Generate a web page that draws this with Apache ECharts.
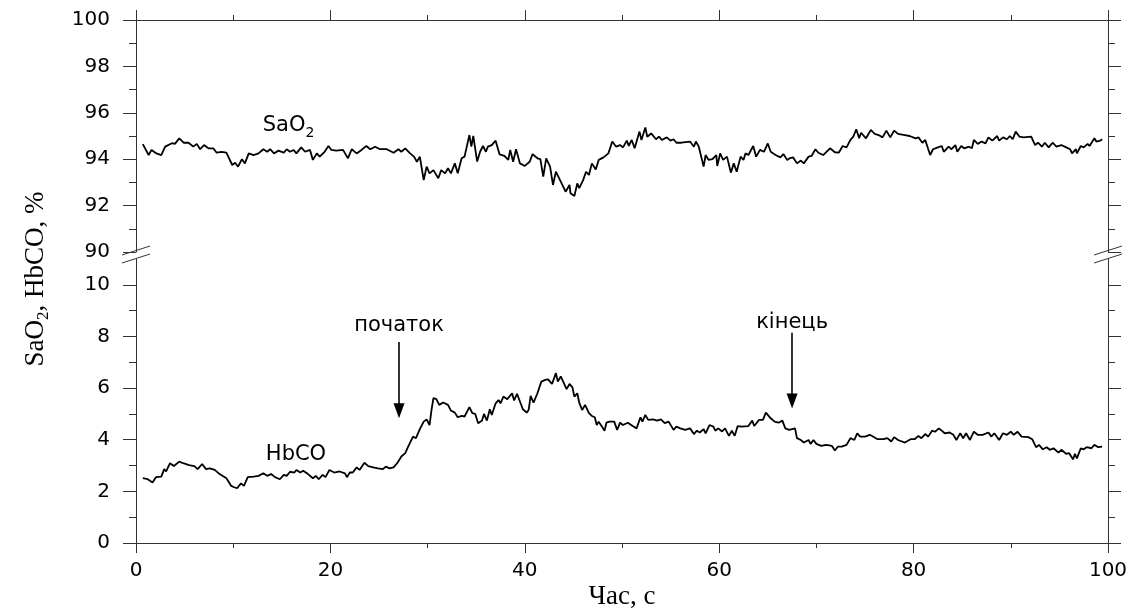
<!DOCTYPE html>
<html>
<head>
<meta charset="utf-8">
<script src="https://cdn.jsdelivr.net/npm/echarts@6.0.0/dist/echarts.min.js"></script>
<style>
html,body{margin:0;padding:0;background:#fff;}
#chart{width:1137px;height:616px;}
</style>
</head>
<body>
<div id="chart"></div>
<script>
// ---- data (time in s, value in %) ----
const sao2Data = [[0.7,94.65],[1.3,94.18],[1.6,94.40],[2.1,94.25],[2.6,94.18],[3.0,94.54],[3.7,94.69],[4.0,94.66],[4.45,94.90],[4.9,94.71],[5.4,94.71],[5.9,94.54],[6.25,94.66],[6.6,94.43],[7.0,94.61],[7.45,94.47],[7.95,94.47],[8.3,94.28],[8.8,94.32],[9.3,94.28],[9.9,93.75],[10.2,93.85],[10.5,93.68],[10.9,94.00],[11.2,93.82],[11.6,94.25],[12.1,94.18],[12.6,94.25],[13.1,94.43],[13.5,94.32],[13.8,94.43],[14.2,94.25],[14.65,94.37],[15.2,94.28],[15.5,94.43],[15.85,94.32],[16.2,94.40],[16.5,94.25],[17.0,94.51],[17.4,94.32],[17.9,94.40],[18.2,93.97],[18.6,94.25],[18.9,94.11],[19.4,94.32],[19.8,94.57],[20.1,94.40],[20.6,94.37],[21.3,94.40],[21.8,94.04],[22.2,94.43],[22.7,94.25],[23.2,94.40],[23.7,94.57],[24.1,94.43],[24.6,94.54],[25.1,94.43],[25.8,94.43],[26.5,94.28],[27.0,94.43],[27.3,94.32],[27.7,94.47],[28.2,94.25],[28.6,94.11],[28.9,93.89],[29.2,94.11],[29.6,93.10],[29.9,93.68],[30.2,93.39],[30.6,93.53],[31.1,93.18],[31.4,93.53],[31.8,93.39],[32.1,93.61],[32.4,93.39],[32.8,93.82],[33.1,93.39],[33.5,94.04],[33.8,94.11],[34.0,94.08],[34.3,95.04],[34.5,94.54],[34.7,95.00],[35.1,93.90],[35.4,94.32],[35.7,94.57],[36.0,94.32],[36.2,94.54],[36.6,94.61],[37.0,94.80],[37.4,94.21],[37.9,94.14],[38.3,93.97],[38.5,94.40],[38.8,93.89],[39.1,94.43],[39.5,93.82],[40.0,93.71],[40.5,93.89],[40.8,94.22],[41.3,94.04],[41.6,94.00],[41.9,93.25],[42.2,94.04],[42.6,93.68],[42.9,92.89],[43.2,93.46],[43.7,93.03],[44.2,92.60],[44.6,92.89],[44.7,92.53],[45.1,92.41],[45.4,92.96],[45.6,92.75],[46.0,93.10],[46.3,93.46],[46.6,93.32],[46.9,93.82],[47.3,93.56],[47.6,93.97],[48.1,94.08],[48.6,94.25],[49.0,94.76],[49.4,94.54],[49.8,94.61],[50.1,94.51],[50.5,94.80],[50.7,94.57],[51.0,94.83],[51.3,94.47],[51.8,95.19],[52.0,94.83],[52.4,95.37],[52.6,94.97],[53.0,95.11],[53.5,94.86],[53.8,94.97],[54.1,94.83],[54.6,94.94],[55.0,94.80],[55.3,94.86],[55.6,94.71],[56.1,94.71],[57.0,94.76],[57.4,94.54],[57.6,94.76],[57.9,94.54],[58.4,93.68],[58.6,94.18],[58.9,93.97],[59.3,94.00],[59.7,94.18],[59.8,93.71],[60.1,94.25],[60.4,93.97],[60.8,94.11],[61.2,93.42],[61.5,93.82],[61.8,93.46],[62.2,94.11],[62.5,93.97],[62.7,94.25],[63.0,94.18],[63.5,94.57],[63.8,94.11],[64.2,94.40],[64.6,94.32],[65.0,94.68],[65.3,94.32],[65.8,94.18],[66.3,94.08],[66.6,94.22],[67.0,93.97],[67.3,94.05],[67.6,94.08],[68.0,93.82],[68.4,93.94],[68.7,93.82],[69.2,94.11],[69.5,94.14],[69.9,94.43],[70.2,94.28],[70.7,94.18],[71.4,94.47],[71.9,94.30],[72.3,94.28],[72.7,94.57],[73.1,94.51],[73.5,94.83],[73.8,94.97],[74.1,95.29],[74.4,94.90],[74.6,95.14],[75.1,94.90],[75.6,95.26],[76.0,95.09],[76.4,95.04],[76.8,94.94],[77.2,95.23],[77.6,94.94],[78.0,95.23],[78.4,95.09],[79.1,95.04],[79.6,95.00],[80.2,94.90],[80.5,94.94],[80.9,94.71],[81.2,94.83],[81.7,94.18],[82.0,94.43],[82.5,94.51],[82.9,94.57],[83.1,94.32],[83.6,94.54],[83.9,94.43],[84.3,94.61],[84.5,94.32],[84.9,94.57],[85.2,94.47],[85.7,94.54],[86.0,94.47],[86.2,94.83],[86.6,94.66],[87.0,94.76],[87.4,94.68],[87.7,94.94],[88.1,94.80],[88.6,95.00],[88.8,94.80],[89.2,94.94],[89.6,94.86],[89.9,95.00],[90.2,94.86],[90.5,95.19],[90.9,94.97],[91.3,94.94],[92.1,94.97],[92.5,94.61],[92.8,94.71],[93.2,94.54],[93.5,94.71],[93.9,94.51],[94.3,94.71],[94.7,94.54],[95.2,94.61],[95.7,94.51],[96.1,94.43],[96.3,94.25],[96.7,94.43],[96.8,94.25],[97.2,94.57],[97.5,94.51],[97.9,94.66],[98.1,94.57],[98.6,94.90],[98.8,94.76],[99.2,94.80],[99.4,94.86]];

const hbcoData = [[0.7,2.51],[1.2,2.47],[1.7,2.34],[2.05,2.55],[2.6,2.57],[2.9,2.86],[3.1,2.77],[3.5,3.09],[3.9,2.98],[4.45,3.15],[4.86,3.09],[5.45,3.02],[6.0,2.98],[6.35,2.86],[6.8,3.06],[7.2,2.86],[7.6,2.89],[8.1,2.83],[8.6,2.67],[9.3,2.51],[9.8,2.21],[10.1,2.16],[10.4,2.12],[10.8,2.31],[11.1,2.21],[11.5,2.55],[12.1,2.57],[12.6,2.60],[13.1,2.70],[13.5,2.60],[13.9,2.67],[14.3,2.55],[14.8,2.47],[15.2,2.64],[15.5,2.60],[15.85,2.76],[16.3,2.73],[16.5,2.83],[16.9,2.73],[17.2,2.80],[17.7,2.67],[18.2,2.51],[18.5,2.60],[18.8,2.47],[19.2,2.64],[19.5,2.55],[19.9,2.83],[20.4,2.73],[20.95,2.77],[21.5,2.70],[21.7,2.55],[22.0,2.73],[22.3,2.73],[22.7,2.93],[23.0,2.83],[23.5,3.11],[23.9,2.98],[24.4,2.93],[24.9,2.89],[25.4,2.86],[25.7,2.96],[26.1,2.89],[26.5,2.93],[26.9,3.11],[27.3,3.35],[27.7,3.48],[28.0,3.73],[28.5,4.12],[28.8,4.06],[29.2,4.41],[29.6,4.70],[29.9,4.79],[30.2,4.57],[30.4,5.15],[30.6,5.61],[30.9,5.57],[31.2,5.35],[31.6,5.44],[32.1,5.35],[32.4,5.13],[32.8,5.05],[33.1,4.87],[33.5,4.92],[33.8,4.90],[34.0,4.90],[34.3,5.26],[34.6,5.03],[34.9,5.00],[35.2,4.64],[35.6,4.74],[35.8,5.00],[36.1,4.74],[36.4,5.18],[36.6,4.96],[37.0,5.41],[37.3,5.54],[37.5,5.41],[37.8,5.67],[38.2,5.57],[38.4,5.54],[38.7,5.80],[38.9,5.52],[39.2,5.78],[39.5,5.48],[39.8,5.18],[40.2,5.05],[40.4,5.16],[40.6,5.70],[40.9,5.44],[41.3,5.80],[41.7,6.25],[42.1,6.32],[42.4,6.34],[42.8,6.16],[43.2,6.58],[43.4,6.25],[43.7,6.45],[43.9,6.38],[44.3,5.96],[44.6,6.16],[44.9,6.03],[45.1,5.67],[45.4,5.80],[45.6,5.44],[45.9,5.15],[46.2,5.35],[46.6,5.03],[46.9,4.92],[47.2,4.87],[47.4,4.57],[47.6,4.70],[47.9,4.53],[48.2,4.35],[48.4,4.66],[48.7,4.70],[49.2,4.70],[49.5,4.38],[49.8,4.66],[50.1,4.57],[50.6,4.66],[51.1,4.53],[51.5,4.44],[51.9,4.87],[52.1,4.70],[52.4,4.96],[52.7,4.77],[53.2,4.79],[53.6,4.74],[54.0,4.79],[54.4,4.64],[54.8,4.70],[55.3,4.38],[55.6,4.51],[56.0,4.44],[56.5,4.38],[57.0,4.44],[57.4,4.22],[57.7,4.35],[58.0,4.28],[58.4,4.41],[58.6,4.25],[59.0,4.57],[59.4,4.51],[59.6,4.35],[59.9,4.44],[60.3,4.32],[60.6,4.44],[61.0,4.15],[61.3,4.35],[61.6,4.15],[61.9,4.53],[62.3,4.51],[63.0,4.53],[63.4,4.74],[63.6,4.53],[64.1,4.77],[64.5,4.77],[64.8,5.05],[65.3,4.83],[65.7,4.70],[66.1,4.66],[66.5,4.74],[66.8,4.44],[67.2,4.38],[67.4,4.41],[67.8,4.44],[68.0,4.06],[68.4,3.99],[68.7,3.89],[69.2,3.99],[69.4,3.84],[69.7,3.99],[70.0,3.84],[70.5,3.76],[71.0,3.80],[71.6,3.76],[71.9,3.58],[72.2,3.73],[72.6,3.73],[73.1,3.80],[73.5,4.06],[73.9,3.99],[74.2,4.25],[74.5,4.12],[75.0,4.12],[75.5,4.19],[76.3,4.02],[76.9,4.02],[77.3,4.06],[77.7,3.93],[78.0,4.10],[78.4,3.99],[79.1,3.89],[79.7,4.02],[80.1,4.02],[80.5,4.15],[80.8,4.06],[81.2,4.22],[81.5,4.12],[81.9,4.35],[82.2,4.31],[82.6,4.44],[82.9,4.35],[83.2,4.25],[83.7,4.28],[84.1,4.19],[84.4,3.99],[84.8,4.25],[85.1,4.06],[85.4,4.25],[85.8,3.99],[86.2,4.31],[86.6,4.19],[87.1,4.19],[87.7,4.28],[88.0,4.12],[88.3,4.25],[88.8,3.99],[89.2,4.25],[89.6,4.19],[90.0,4.31],[90.3,4.19],[90.7,4.31],[91.1,4.12],[91.8,4.10],[92.2,4.02],[92.6,3.71],[92.9,3.80],[93.3,3.63],[93.7,3.71],[94.0,3.61],[94.4,3.67],[94.9,3.50],[95.2,3.61],[95.7,3.45],[96.0,3.48],[96.4,3.24],[96.6,3.45],[96.8,3.28],[97.2,3.67],[97.5,3.63],[97.8,3.71],[98.3,3.67],[98.6,3.80],[99.0,3.71],[99.4,3.73]];

const xTicks = [0, 20, 40, 60, 80, 100];
const upperYTicks = [90, 92, 94, 96, 98, 100];
const lowerYTicks = [0, 2, 4, 6, 8, 10];

// annotations: [time, value]
const arrowStart = { from: [27.06, 7.79], to: [27.06, 5.12] };
const arrowEnd   = { from: [67.5, 8.14], to: [67.5, 5.5] };
const labelStart = [27.06, 8.41];
const labelEnd   = [67.5, 8.53];
const labelSaO2  = [15.7, 95.43];
const labelHbCO  = [16.46, 3.41];

// ---- layout ----
const L = 136, R = 29;
const upTop = 20, upH = 232;
const loTop = 259, loBottom = 73;
const axisColor = '#333';
const sans = 'DejaVu Sans';
const serif = 'Liberation Serif';

const chart = echarts.init(document.getElementById('chart'));

function yAxisCommon(gridIndex, min, max, ticks, pos, showLabel) {
  return {
    type: 'value', gridIndex, position: pos, min, max, interval: 2,
    axisLine: { show: true, onZero: false, lineStyle: { color: axisColor, width: 1 } },
    axisTick: { show: true, inside: false, length: 13, customValues: ticks, lineStyle: { color: axisColor, width: 1 } },
    minorTick: { show: true, splitNumber: 2, length: 7, lineStyle: { color: axisColor, width: 1 } },
    splitLine: { show: false }, minorSplitLine: { show: false },
    axisLabel: { show: showLabel, customValues: ticks, margin: 26, color: '#000', fontFamily: sans, fontSize: 20 }
  };
}
function xAxisCommon(gridIndex, pos, showLabel) {
  return {
    type: 'value', gridIndex, position: pos, min: 0, max: 100, interval: 20,
    axisLine: { show: true, onZero: false, lineStyle: { color: axisColor, width: 1 } },
    axisTick: { show: true, inside: false, length: 10, lineStyle: { color: axisColor, width: 1 } },
    minorTick: { show: true, splitNumber: 2, length: 5, lineStyle: { color: axisColor, width: 1 } },
    splitLine: { show: false }, minorSplitLine: { show: false },
    axisLabel: { show: showLabel, customValues: xTicks, margin: 18, color: '#000', fontFamily: sans, fontSize: 20 }
  };
}

const textMark = (coord, name, rich) => ({
  coord, name, value: 0,
  symbol: 'circle', symbolSize: 1, itemStyle: { color: 'rgba(0,0,0,0)' },
  label: { show: true, position: 'inside', formatter: rich || name, color: '#000', fontFamily: sans, fontSize: 21,
           rich: { s: { fontFamily: sans, fontSize: 14, color: '#000', padding: [15, 0, 0, 0] }, m: { fontFamily: sans, fontSize: 21, color: '#000' } } }
});

const xAxisLower = xAxisCommon(1, 'bottom', true);
xAxisLower.name = 'Час, с';
xAxisLower.nameLocation = 'middle';
xAxisLower.nameGap = 40;
xAxisLower.nameTextStyle = { fontFamily: serif, fontSize: 27, color: '#000' };

// break marks around both vertical axes
const breakY = loTop - 4.5;
function breakLines(xc) {
  return [-4, 4].map(d => ({
    type: 'line', silent: true,
    shape: { x1: xc - 14, y1: breakY + d + 4.5, x2: xc + 14, y2: breakY + d - 4.5 },
    style: { stroke: axisColor, lineWidth: 1 }
  }));
}

const option = {
  backgroundColor: '#fff',
  animation: false,
  grid: [
    { left: L, right: R, top: upTop, height: upH, outerBoundsMode: 'none', containLabel: false },
    { left: L, right: R, top: loTop, bottom: loBottom, outerBoundsMode: 'none', containLabel: false }
  ],
  xAxis: [ xAxisCommon(0, 'top', false), xAxisLower ],
  yAxis: [
    yAxisCommon(0, 90, 100, upperYTicks, 'left', true),
    yAxisCommon(0, 90, 100, upperYTicks, 'right', false),
    yAxisCommon(1, 0, 11, lowerYTicks, 'left', true),
    yAxisCommon(1, 0, 11, lowerYTicks, 'right', false)
  ],
  series: [
    {
      name: 'SaO2', type: 'line', xAxisIndex: 0, yAxisIndex: 0, data: sao2Data,
      showSymbol: false, symbol: 'none', lineStyle: { color: '#000', width: 1.8 }, silent: true,
      markPoint: { silent: true, animation: false, data: [ textMark(labelSaO2, 'SaO2', '{m|SaO}{s|2}') ] }
    },
    {
      name: 'HbCO', type: 'line', xAxisIndex: 1, yAxisIndex: 2, data: hbcoData,
      showSymbol: false, symbol: 'none', lineStyle: { color: '#000', width: 1.8 }, silent: true,
      markPoint: { silent: true, animation: false, data: [
        textMark(labelHbCO, 'HbCO'), textMark(labelStart, 'початок'), textMark(labelEnd, 'кінець')
      ] },
      markLine: {
        silent: true, animation: false, symbol: ['none', 'triangle'], symbolSize: [11, 15],
        lineStyle: { color: '#000', width: 1.6, type: 'solid' }, label: { show: false },
        emphasis: { disabled: true },
        data: [
          [ { coord: arrowStart.from }, { coord: arrowStart.to } ],
          [ { coord: arrowEnd.from }, { coord: arrowEnd.to } ]
        ]
      }
    }
  ],
  graphic: [
    ...breakLines(L), ...breakLines(1137 - R),
    {
      type: 'text', x: 36, y: 279, rotation: Math.PI / 2, silent: true,
      style: {
        text: 'SaO{s|2}, HbCO, %', fontFamily: serif, fontSize: 27, fill: '#000',
        align: 'center', verticalAlign: 'middle',
        rich: { s: { fontFamily: serif, fontSize: 17, fill: '#000', padding: [16, 0, 0, 0] } }
      }
    }
  ]
};
chart.setOption(option);
</script>
</body>
</html>
